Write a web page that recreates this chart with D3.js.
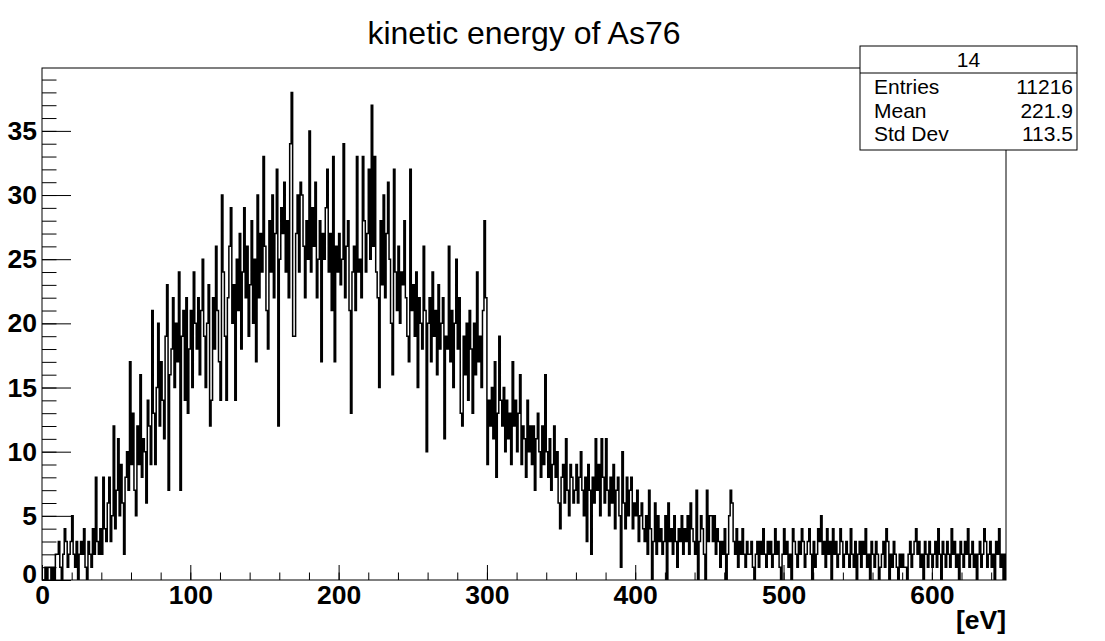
<!DOCTYPE html>
<html>
<head>
<meta charset="utf-8">
<script src="https://cdn.jsdelivr.net/npm/d3@7"></script>
<style>
  html, body { margin: 0; padding: 0; background: #fff; }
  svg { display: block; }
  text { font-family: "Liberation Sans", Arial, Helvetica, sans-serif; }
</style>
</head>
<body>
<svg id="chart" width="1105" height="641"></svg>
<script>
// ---- data ----
const titleText = "kinetic energy of As76";
const xAxisTitle = "[eV]";
const xRange = [0, 650];          // histogram axis range in eV (1 eV bins)
const yMaxDisplay = 39.9;
const xTickValues = [0, 100, 200, 300, 400, 500, 600];
const yTickValues = [0, 5, 10, 15, 20, 25, 30, 35];
const statsName = "14";
const statsLabels = ["Entries", "Mean", "Std Dev"];
const statsValues = ["11216", "221.9", "113.5"];

// bin contents, bin i covers [i, i+1) eV
const counts = [
  0,0,1,0,1,1,0,1,0,2,
  2,3,1,0,2,4,3,1,2,3,
  5,2,1,3,0,2,3,2,4,1,
  0,3,2,1,4,2,8,3,2,4,
  2,8,4,3,6,8,3,5,12,4,
  7,11,5,9,6,2,8,10,7,17,
  9,13,7,5,12,9,16,8,11,10,
  6,14,12,9,21,13,9,15,20,12,
  17,14,11,19,23,7,16,18,22,15,
  20,17,24,7,19,21,14,22,13,18,
  21,15,24,20,18,22,16,21,25,19,
  15,20,23,12,14,22,18,26,21,17,
  14,30,24,19,14,22,26,29,20,23,
  14,25,21,27,18,24,29,22,26,19,
  23,28,20,25,17,30,22,27,24,33,
  26,21,18,28,24,30,22,27,32,12,
  25,29,27,31,24,28,22,34,38,19,
  19,27,30,24,31,30,26,22,28,25,
  35,24,29,26,31,22,25,28,17,27,
  25,29,32,24,27,21,33,17,26,24,
  27,23,25,34,22,26,28,21,13,24,
  26,21,33,24,25,22,33,28,24,27,
  32,25,37,26,33,24,22,15,28,23,
  30,22,27,31,25,20,16,32,24,21,
  26,20,24,23,28,22,19,17,32,21,
  23,19,24,15,22,20,18,26,21,10,
  20,22,17,24,19,21,16,23,18,20,
  22,11,19,18,26,17,21,15,20,25,
  18,22,13,12,19,16,20,14,21,18,
  13,20,16,24,17,19,15,21,28,22,
  9,14,12,15,11,17,8,13,19,14,
  12,15,10,14,11,13,9,17,12,14,
  10,13,16,9,12,11,8,14,10,12,
  9,12,7,11,13,10,8,12,9,16,
  10,8,11,7,9,12,8,10,6,4,
  8,9,6,11,7,5,9,8,6,7,
  9,6,8,10,7,5,8,3,9,7,
  2,8,6,11,7,9,5,11,8,6,
  11,7,5,8,6,9,4,7,8,5,
  1,10,6,4,8,5,7,8,4,6,
  5,7,3,5,6,4,3,5,2,7,
  4,0,3,6,2,5,3,4,2,3,
  5,0,6,3,4,2,5,3,1,4,
  3,5,2,4,3,5,2,6,4,3,
  2,7,0,3,5,4,2,0,7,3,
  5,5,3,5,2,4,3,1,3,2,
  4,0,2,5,7,6,3,2,4,1,
  3,2,4,2,1,3,2,2,3,1,
  0,2,3,1,3,2,4,2,1,3,
  2,3,1,2,4,2,3,1,0,2,
  4,2,3,1,2,0,4,3,2,1,
  3,2,4,3,1,2,3,4,2,0,
  3,1,2,4,3,5,2,3,1,4,
  2,3,0,4,2,3,1,2,4,3,
  1,2,3,2,1,4,2,1,3,0,
  2,3,1,3,2,4,1,2,0,3,
  2,1,3,2,0,1,2,3,1,4,
  3,0,2,1,3,2,1,0,2,1,
  2,1,1,0,2,3,1,2,3,4,
  2,3,1,2,0,3,2,1,3,2,
  1,2,3,1,4,2,0,3,2,1,
  3,2,1,4,2,3,1,2,0,3,
  2,1,3,2,4,1,2,3,1,2,
  0,2,3,1,2,4,3,1,2,3,
  1,2,0,3,2,4,1,2,0,2
];

// ---- layout ----
const frame = { left: 42, right: 1006, top: 68, bottom: 580 };
const svg = d3.select("#chart");
svg.append("rect").attr("width", 1105).attr("height", 641).attr("fill", "#fff");

const x = d3.scaleLinear().domain(xRange).range([frame.left, frame.right]);
const y = d3.scaleLinear().domain([0, yMaxDisplay]).range([frame.bottom, frame.top]);

// histogram step path
const binW = (xRange[1] - xRange[0]) / counts.length;
const pts = [[xRange[0], 0]];
counts.forEach((c, i) => {
  const x0 = xRange[0] + i * binW;
  pts.push([x0, c], [x0 + binW, c]);
});
pts.push([xRange[1], 0]);
const line = d3.line().x(d => x(d[0])).y(d => y(d[1]));

svg.append("clipPath").attr("id", "fclip").append("rect")
  .attr("x", frame.left).attr("y", frame.top)
  .attr("width", frame.right - frame.left).attr("height", frame.bottom - frame.top);

svg.append("path")
  .attr("d", line(pts))
  .attr("fill", "none")
  .attr("stroke", "#000")
  .attr("stroke-width", 1.5)
  .attr("clip-path", "url(#fclip)");

// axes (ticks pointing inward as in ROOT)
const yMinor = d3.range(0, 40, 1);
const gyMinor = svg.append("g").attr("transform", `translate(${frame.left},0)`)
  .call(d3.axisLeft(y).tickValues(yMinor).tickSize(-14.5).tickSizeOuter(0).tickFormat(""));
const gy = svg.append("g").attr("transform", `translate(${frame.left},0)`)
  .call(d3.axisLeft(y).tickValues(yTickValues).tickSize(-29).tickSizeOuter(0).tickPadding(5).tickFormat(d3.format("d")));

const xMinor = d3.range(0, 651, 20);
const gxMinor = svg.append("g").attr("transform", `translate(0,${frame.bottom})`)
  .call(d3.axisBottom(x).tickValues(xMinor).tickSize(-7.5).tickSizeOuter(0).tickFormat(""));
const gx = svg.append("g").attr("transform", `translate(0,${frame.bottom})`)
  .call(d3.axisBottom(x).tickValues(xTickValues).tickSize(-15).tickSizeOuter(0).tickPadding(5).tickFormat(d3.format("d")));

[gyMinor, gy, gxMinor, gx].forEach(g => {
  g.select(".domain").remove();
  g.selectAll("line").attr("stroke", "#000").attr("stroke-width", 1);
});
[gy, gx].forEach(g => g.selectAll("text")
  .attr("font-size", 26.5).attr("font-weight", "bold").attr("fill", "#000")
  .attr("font-family", "Liberation Sans, Arial, sans-serif"));
gy.selectAll(".tick").filter(d => d === 0).select("text").attr("dy", "0.1em");

// frame
svg.append("rect")
  .attr("x", frame.left).attr("y", frame.top)
  .attr("width", frame.right - frame.left).attr("height", frame.bottom - frame.top)
  .attr("fill", "none").attr("stroke", "#000").attr("stroke-width", 1);

// title
svg.append("text")
  .attr("x", (frame.left + frame.right) / 2).attr("y", 44)
  .attr("text-anchor", "middle").attr("font-size", 32)
  .text(titleText);

// x axis title
svg.append("text")
  .attr("x", frame.right).attr("y", 629)
  .attr("text-anchor", "end").attr("font-size", 26.5).attr("font-weight", "bold")
  .text(xAxisTitle);

// stats box
const sb = { left: 860, right: 1077, top: 46, bottom: 150, head: 73 };
const gs = svg.append("g");
gs.append("rect").attr("x", sb.left).attr("y", sb.top)
  .attr("width", sb.right - sb.left).attr("height", sb.bottom - sb.top)
  .attr("fill", "#fff").attr("stroke", "#000").attr("stroke-width", 1);
gs.append("line").attr("x1", sb.left).attr("x2", sb.right).attr("y1", sb.head).attr("y2", sb.head)
  .attr("stroke", "#000").attr("stroke-width", 1);
gs.append("text").attr("x", (sb.left + sb.right) / 2).attr("y", 67)
  .attr("text-anchor", "middle").attr("font-size", 21).text(statsName);
statsLabels.forEach((lab, i) => {
  const by = 94 + i * 23.5;
  gs.append("text").attr("x", sb.left + 14).attr("y", by).attr("font-size", 21).text(lab);
  gs.append("text").attr("x", sb.right - 4).attr("y", by).attr("text-anchor", "end")
    .attr("font-size", 21).text(statsValues[i]);
});
</script>
</body>
</html>
